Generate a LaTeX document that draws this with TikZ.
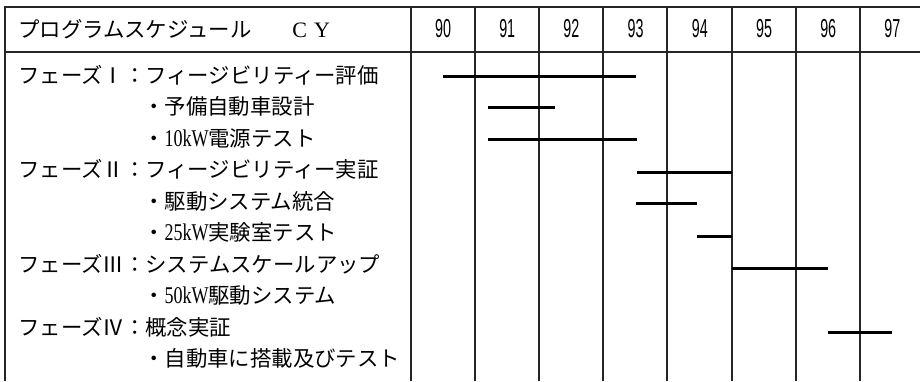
\documentclass[tikz,border=0pt]{standalone}
\usepackage{fontspec}
\newfontfamily\jpfont{Noto Sans CJK JP}
\newfontfamily\numfont[FakeStretch=0.55]{Liberation Sans}
\newfontfamily\latfont[FakeStretch=0.75]{Liberation Serif}
\newfontfamily\cyfont{Liberation Serif}
\newcommand{\lat}[1]{{\latfont\fontsize{24}{26}\selectfont #1}}
\begin{document}
\begin{tikzpicture}[x=1pt,y=-1pt,
  grid/.style={line width=1.1pt, black!85},
  bar/.style={line width=3pt, black},
  jp/.style={anchor=west, inner sep=0pt, text height=18pt, text depth=2pt,
             font=\jpfont\fontsize{21.4}{24}\selectfont},
  yr/.style={inner sep=0pt, font=\numfont\fontsize{26}{28}\selectfont}]
\useasboundingbox (0,0) rectangle (920,381);
% grid
\draw[grid] (5,381) -- (5,7) -- (920,7);
\draw[grid] (5,52) -- (920,52);
\foreach \x in {411,475,539,603,667,732,796,860}
  \draw[grid] (\x,7) -- (\x,381);
% header
\node[jp] (hdr) at (18,29) {プログラムスケジュール\hspace{41pt}{\cyfont\fontsize{22}{24}\selectfont C\hspace{7pt}Y}};
\foreach \y [count=\i from 0] in {90,91,92,93,94,95,96,97}
  \node[yr] (y\y) at (443+64.2*\i,29) {\y};
% rows
\node[jp] (r0) at (18,75)    {フェーズⅠ：フィージビリティー評価};
\node[jp] (r1) at (143,106.5) {・予備自動車設計};
\node[jp] (r2) at (143,138)  {・\lat{10kW}電源テスト};
\node[jp] (r3) at (18,169.5) {フェーズⅡ：フィージビリティー実証};
\node[jp] (r4) at (143,201)  {・駆動システム統合};
\node[jp] (r5) at (143,232.5) {・\lat{25kW}実験室テスト};
\node[jp] (r6) at (18,264)   {フェーズⅢ：システムスケールアップ};
\node[jp] (r7) at (143,295.5) {・\lat{50kW}駆動システム};
\node[jp] (r8) at (18,327)   {フェーズⅣ：概念実証};
\node[jp] (r9) at (143,358.5) {・自動車に搭載及びテスト};
% bars
\draw[bar] (443,76) -- (636,76);
\draw[bar] (488,107) -- (555,107);
\draw[bar] (488,139) -- (637,139);
\draw[bar] (637,172) -- (732,172);
\draw[bar] (636,203) -- (697,203);
\draw[bar] (697,236) -- (732,236);
\draw[bar] (732,268) -- (828,268);
\draw[bar] (828,332) -- (892,332);
\end{tikzpicture}
\end{document}
